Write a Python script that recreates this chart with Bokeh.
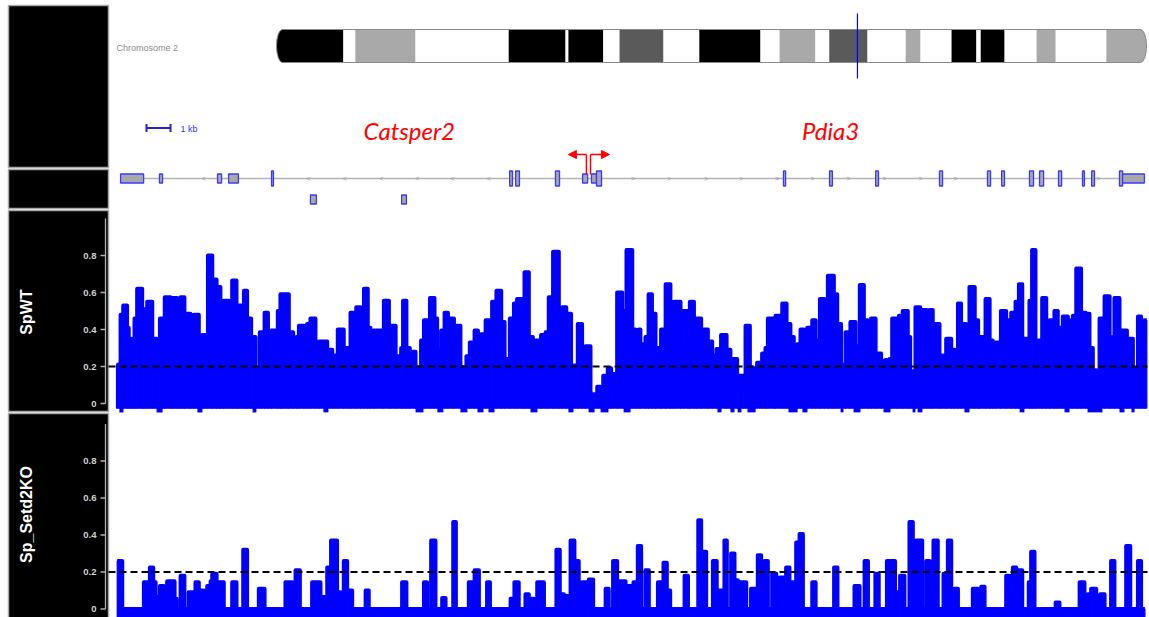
import math
from bokeh.plotting import figure
from bokeh.models import Range1d, Arrow, NormalHead
from bokeh.core.properties import value
from bokeh.embed import file_html
from bokeh.resources import INLINE

# ---------------- data ----------------
chrom_name = "Chromosome 2"
chr_len_mb = 182.1
band_start = [0.0, 14.0, 16.5, 29.1, 48.6, 60.5, 61.1, 68.4, 71.8, 81.0, 88.5, 101.3, 105.3,
              112.8, 115.7, 123.7, 131.7, 134.8, 141.3, 146.5, 147.4, 152.4, 159.1, 163.1, 173.7]
band_end = [14.0, 16.5, 29.1, 48.6, 60.5, 61.1, 68.4, 71.8, 81.0, 88.5, 101.3, 105.3, 112.8,
            115.7, 123.7, 131.7, 134.8, 141.3, 146.5, 147.4, 152.4, 159.1, 163.1, 173.7, 182.1]
band_stain = ["gpos100", "gneg", "gpos33", "gneg", "gpos100", "gneg", "gpos100", "gneg", "gpos66",
              "gneg", "gpos100", "gneg", "gpos33", "gneg", "gpos66", "gneg", "gpos33", "gneg",
              "gpos100", "gneg", "gpos100", "gneg", "gpos33", "gneg", "gpos33"]
highlight_mb = 121.6

gene_names = ["Catsper2", "Pdia3"]
gene_label_kb = [12.2, 29.75]

# exons: start kb, end kb, transcript row, height class
exon_start = [0.17, 1.79, 4.21, 4.67, 6.46, 16.38, 16.63, 18.29, 19.42, 19.79, 20.00, 27.79, 29.71,
              31.63, 34.29, 36.29, 36.88, 38.04, 38.46, 39.25, 40.25, 40.63, 41.79, 41.92, 8.08, 11.88]
exon_end = [1.13, 1.92, 4.38, 5.08, 6.54, 16.50, 16.79, 18.46, 19.63, 20.00, 20.21, 27.88, 29.83,
            31.75, 34.42, 36.42, 37.00, 38.21, 38.63, 39.38, 40.33, 40.75, 41.92, 42.83, 8.33, 12.08]
exon_row = [0] * 24 + [1, 1]
exon_cds = [0, 0, 0, 0, 1, 1, 1, 1, 0, 0, 1, 1, 1, 1, 1, 1, 1, 1, 1, 1, 1, 1, 1, 0, 0, 0]
transcript_start, transcript_end = 0.17, 42.83
minus_strand_marks = [3.63, 8.0, 9.5, 11.04, 12.54, 14.0, 15.5]
plus_strand_marks = [21.54, 23.04, 24.58, 26.04, 27.54, 29.0, 30.5, 32.0, 33.5, 34.96, 40.92]
tss_minus, tss_plus = 19.58, 19.75
scale_kb = 1.0

# SpWT signal: (segment start kb, value)
wt_steps = [
    (0.00, 0.21), (0.17, 0.48), (0.28, 0.53), (0.44, 0.41), (0.51, 0.35), (0.61, 0.20), (0.75, 0.46), (0.86, 0.62), (1.07, 0.36), (1.14, 0.51),
    (1.28, 0.55), (1.49, 0.35), (1.67, 0.18), (1.81, 0.46), (2.01, 0.575), (2.25, 0.40), (2.33, 0.57), (2.53, 0.29), (2.67, 0.575), (2.83, 0.485),
    (3.08, 0.45), (3.22, 0.48), (3.43, 0.16), (3.57, 0.37), (3.81, 0.80), (3.99, 0.67), (4.17, 0.63), (4.33, 0.51), (4.47, 0.555), (4.68, 0.29),
    (4.82, 0.665), (5.00, 0.29), (5.10, 0.53), (5.31, 0.61), (5.44, 0.46), (5.61, 0.36), (5.79, 0.19), (5.97, 0.385), (6.17, 0.49), (6.31, 0.385),
    (6.44, 0.395), (6.72, 0.50), (6.83, 0.59), (7.18, 0.385), (7.36, 0.16), (7.50, 0.36), (7.60, 0.42), (7.81, 0.36), (7.94, 0.43), (8.08, 0.46),
    (8.29, 0.30), (8.43, 0.335), (8.78, 0.29), (8.99, 0.26), (9.22, 0.40), (9.47, 0.30), (9.64, 0.23), (9.75, 0.49), (9.99, 0.52), (10.17, 0.475),
    (10.31, 0.62), (10.47, 0.41), (10.58, 0.30), (10.72, 0.395), (11.14, 0.555), (11.35, 0.29), (11.44, 0.42), (11.63, 0.255), (11.86, 0.30), (11.94, 0.555),
    (12.08, 0.30), (12.22, 0.28), (12.46, 0.196), (12.69, 0.34), (12.81, 0.45), (13.06, 0.57), (13.25, 0.46), (13.36, 0.29), (13.53, 0.395), (13.67, 0.49),
    (13.81, 0.46), (14.06, 0.42), (14.33, 0.196), (14.50, 0.105), (14.58, 0.255), (14.72, 0.33), (14.92, 0.395), (15.06, 0.34), (15.19, 0.375), (15.38, 0.45),
    (15.54, 0.36), (15.65, 0.55), (15.83, 0.61), (16.03, 0.44), (16.17, 0.24), (16.39, 0.46), (16.56, 0.54), (16.69, 0.565), (16.90, 0.41), (17.00, 0.71),
    (17.18, 0.36), (17.35, 0.16), (17.46, 0.34), (17.69, 0.37), (17.88, 0.385), (18.01, 0.575), (18.19, 0.82), (18.43, 0.44), (18.57, 0.52), (18.74, 0.485),
    (18.94, 0.18), (19.06, 0.205), (19.22, 0.43), (19.40, 0.205), (19.54, 0.31), (19.75, 0.05), (20.03, 0.09), (20.17, 0.0), (20.28, 0.15), (20.47, 0.19),
    (20.61, 0.16), (20.86, 0.60), (21.07, 0.50), (21.25, 0.83), (21.49, 0.40), (21.63, 0.27), (21.76, 0.40), (21.83, 0.32), (22.04, 0.36), (22.17, 0.59),
    (22.31, 0.485), (22.46, 0.30), (22.69, 0.40), (22.88, 0.645), (23.08, 0.46), (23.22, 0.55), (23.50, 0.45), (23.61, 0.50), (23.81, 0.30), (23.89, 0.55),
    (24.06, 0.44), (24.17, 0.46), (24.36, 0.40), (24.64, 0.335), (24.82, 0.26), (25.00, 0.295), (25.19, 0.37), (25.42, 0.29), (25.58, 0.24), (25.86, 0.09),
    (25.93, 0.15), (26.11, 0.07), (26.21, 0.42), (26.39, 0.196), (26.49, 0.19), (26.69, 0.22), (26.90, 0.27), (27.04, 0.30), (27.14, 0.46), (27.39, 0.395),
    (27.46, 0.475), (27.74, 0.54), (27.92, 0.43), (28.08, 0.36), (28.22, 0.24), (28.36, 0.32), (28.50, 0.40), (28.64, 0.32), (28.78, 0.41), (28.99, 0.45),
    (29.13, 0.34), (29.31, 0.565), (29.50, 0.44), (29.64, 0.69), (29.89, 0.59), (30.03, 0.43), (30.19, 0.21), (30.38, 0.385), (30.58, 0.44), (30.79, 0.31),
    (30.97, 0.64), (31.14, 0.45), (31.31, 0.31), (31.44, 0.46), (31.63, 0.27), (31.86, 0.23), (32.04, 0.235), (32.21, 0.24), (32.32, 0.46), (32.49, 0.30),
    (32.60, 0.475), (32.76, 0.50), (32.97, 0.36), (33.07, 0.175), (33.29, 0.52), (33.49, 0.21), (33.57, 0.505), (33.76, 0.29), (33.88, 0.505), (34.01, 0.43),
    (34.29, 0.26), (34.57, 0.35), (34.78, 0.29), (34.92, 0.23), (35.06, 0.54), (35.19, 0.43), (35.40, 0.40), (35.54, 0.63), (35.76, 0.45), (35.90, 0.23),
    (35.96, 0.36), (36.21, 0.565), (36.38, 0.34), (36.51, 0.30), (36.63, 0.33), (36.85, 0.50), (37.07, 0.45), (37.28, 0.49), (37.46, 0.55), (37.60, 0.645),
    (37.74, 0.23), (37.83, 0.35), (38.04, 0.555), (38.15, 0.83), (38.29, 0.34), (38.57, 0.57), (38.74, 0.43), (38.88, 0.45), (39.08, 0.50), (39.22, 0.41),
    (39.43, 0.47), (39.64, 0.45), (39.85, 0.475), (39.99, 0.73), (40.19, 0.49), (40.38, 0.485), (40.54, 0.30), (40.68, 0.18), (40.82, 0.045), (40.96, 0.46),
    (41.17, 0.58), (41.38, 0.36), (41.58, 0.57), (41.79, 0.17), (41.89, 0.395), (42.10, 0.35), (42.35, 0.19), (42.56, 0.47), (42.69, 0.34), (42.83, 0.45),
]
wt_end = 42.93
wt_dip_start = [0.12, 1.67, 3.37, 5.67, 8.62, 12.46, 13.37, 14.33, 15.04, 15.50, 17.25, 18.83, 19.67, 20.17, 21.13, 25.04,
                25.58, 25.88, 26.29, 28.00, 28.58, 30.17, 30.71, 31.96, 33.17, 33.38, 35.33, 37.63, 39.50, 40.46, 41.79, 42.29]
wt_dip_end = [0.29, 1.92, 3.58, 5.83, 8.83, 12.79, 13.62, 14.62, 15.29, 15.75, 17.54, 19.04, 19.92, 20.50, 21.42, 25.21,
              25.75, 26.04, 26.63, 28.38, 28.79, 30.29, 31.00, 32.25, 33.29, 33.58, 35.54, 37.83, 39.71, 41.08, 42.00, 42.42]

# Sp_Setd2KO signal: (segment start kb, value)
ko_steps = [
    (0.03, 0.26), (0.24, 0.0), (1.14, 0.145), (1.31, 0.10), (1.39, 0.225), (1.53, 0.145), (1.63, 0.065), (1.81, 0.125), (1.97, 0.08), (2.11, 0.15),
    (2.42, 0.055), (2.50, 0.0), (2.67, 0.18), (2.83, 0.0), (3.01, 0.09), (3.19, 0.06), (3.29, 0.145), (3.43, 0.10), (3.64, 0.055), (3.78, 0.125),
    (3.92, 0.15), (3.99, 0.19), (4.17, 0.10), (4.26, 0.145), (4.47, 0.0), (4.82, 0.145), (5.00, 0.0), (5.28, 0.32), (5.44, 0.0), (5.93, 0.11),
    (6.17, 0.0), (7.04, 0.145), (7.32, 0.0), (7.46, 0.21), (7.64, 0.0), (8.15, 0.145), (8.50, 0.065), (8.67, 0.0), (8.78, 0.225), (8.94, 0.37),
    (9.19, 0.09), (9.33, 0.0), (9.47, 0.26), (9.61, 0.10), (9.82, 0.0), (10.38, 0.10), (10.51, 0.0), (11.90, 0.145), (12.08, 0.0), (12.81, 0.145),
    (12.94, 0.0), (13.11, 0.37), (13.29, 0.0), (13.57, 0.06), (13.71, 0.0), (14.03, 0.47), (14.14, 0.0), (14.68, 0.145), (14.92, 0.21), (15.10, 0.0),
    (15.44, 0.145), (15.56, 0.0), (16.42, 0.055), (16.58, 0.145), (16.76, 0.0), (17.04, 0.08), (17.18, 0.055), (17.39, 0.0), (17.53, 0.145), (17.81, 0.0),
    (18.33, 0.32), (18.47, 0.08), (18.64, 0.07), (18.92, 0.37), (19.08, 0.26), (19.26, 0.07), (19.40, 0.145), (19.61, 0.0), (19.68, 0.16), (19.86, 0.0),
    (20.38, 0.11), (20.51, 0.0), (20.69, 0.26), (20.86, 0.15), (21.21, 0.125), (21.54, 0.145), (21.72, 0.34), (21.86, 0.0), (22.04, 0.21), (22.18, 0.0),
    (22.56, 0.145), (22.79, 0.25), (22.93, 0.10), (23.07, 0.0), (23.67, 0.18), (23.81, 0.0), (24.24, 0.48), (24.36, 0.31), (24.57, 0.0), (24.85, 0.26),
    (25.01, 0.10), (25.26, 0.0), (25.33, 0.37), (25.43, 0.0), (25.61, 0.30), (25.75, 0.155), (25.89, 0.145), (26.24, 0.0), (26.44, 0.11), (26.63, 0.0),
    (26.72, 0.29), (26.86, 0.125), (27.00, 0.26), (27.14, 0.0), (27.32, 0.19), (27.49, 0.0), (27.63, 0.17), (27.83, 0.10), (27.90, 0.225), (28.04, 0.145),
    (28.32, 0.36), (28.46, 0.405), (28.60, 0.0), (28.99, 0.145), (29.13, 0.0), (29.90, 0.225), (30.04, 0.0), (30.75, 0.125), (30.96, 0.0), (31.17, 0.26),
    (31.31, 0.0), (31.62, 0.19), (31.76, 0.0), (32.10, 0.26), (32.21, 0.0), (32.28, 0.26), (32.44, 0.09), (32.65, 0.18), (32.83, 0.0), (33.04, 0.47),
    (33.18, 0.25), (33.32, 0.37), (33.57, 0.0), (33.74, 0.26), (33.88, 0.0), (34.04, 0.37), (34.22, 0.0), (34.46, 0.19), (34.57, 0.0), (34.64, 0.37),
    (34.78, 0.0), (34.92, 0.11), (35.06, 0.0), (35.68, 0.11), (35.89, 0.0), (36.03, 0.12), (36.17, 0.0), (37.07, 0.18), (37.21, 0.125), (37.35, 0.225),
    (37.49, 0.21), (37.74, 0.0), (38.01, 0.145), (38.11, 0.31), (38.25, 0.0), (39.13, 0.035), (39.29, 0.0), (40.13, 0.145), (40.33, 0.0), (40.47, 0.08),
    (40.61, 0.11), (40.82, 0.07), (40.99, 0.08), (41.17, 0.0), (41.44, 0.26), (41.58, 0.0), (42.07, 0.34), (42.24, 0.0), (42.56, 0.26), (42.69, 0.0),
]
ko_end = 42.85

track_names = ["SpWT", "Sp_Setd2KO"]
tick_vals = [0, 0.2, 0.4, 0.6, 0.8]
tick_labels = ["0", "0.2", "0.4", "0.6", "0.8"]
threshold = 0.2

# ---------------- layout ----------------
W, H = 1149, 617
BLUE = "#0000ff"
FONT = value("Liberation Sans")

g_px0, g_ppkb = 116.0, 24.0            # genome track: pixel of kb 0, pixels per kb
c_px0, c_pxlen = 276.0, 870.0          # ideogram pixel extent
mb_per_px = chr_len_mb / c_pxlen
wt_zero, ko_zero, px_per_unit = 403.0, 608.5, 185.0

p = figure(width=W, height=H, x_range=Range1d(0, W), y_range=Range1d(H, 0),
           x_axis_type=None, y_axis_type=None, toolbar_location=None,
           output_backend="svg", min_border=0, outline_line_color=None)
p.extra_x_ranges = {
    "genome": Range1d(-g_px0 / g_ppkb, (W - g_px0) / g_ppkb),
    "chr": Range1d(-c_px0 * mb_per_px, (W - c_px0) * mb_per_px),
}
p.extra_y_ranges = {
    "wt": Range1d((wt_zero - H) / px_per_unit, wt_zero / px_per_unit),
    "ko": Range1d((ko_zero - H) / px_per_unit, ko_zero / px_per_unit),
}

# left title panels
p.quad(left=[8, 8, 8, 8], right=[108, 108, 108, 108], top=[5, 169, 210, 413], bottom=[167, 208, 411, 620],
       fill_color="black", line_color="#a8a8a8", line_width=1.5)

# ---- ideogram ----
stain_col = {"gneg": "#ffffff", "gpos33": "#a9a9a9", "gpos66": "#5a5a5a", "gpos100": "#000000"}
cap = 6 * mb_per_px
ideo_top, ideo_bot = 29, 62
ideo_mid = (ideo_top + ideo_bot) / 2
p.ellipse(x=[cap, chr_len_mb - cap], y=[ideo_mid, ideo_mid], width=2 * cap, height=ideo_bot - ideo_top,
          fill_color=[stain_col[band_stain[0]], stain_col[band_stain[-1]]], line_color="#8a8a8a",
          line_width=1, x_range_name="chr")
bl = [max(s, cap) for s in band_start]
br = [min(e, chr_len_mb - cap) for e in band_end]
p.quad(left=bl, right=br, top=ideo_top, bottom=ideo_bot, fill_color=[stain_col[s] for s in band_stain],
       line_color=None, x_range_name="chr")
p.segment(x0=[cap, cap], x1=[chr_len_mb - cap] * 2, y0=[ideo_top, ideo_bot], y1=[ideo_top, ideo_bot],
          line_color="#8a8a8a", line_width=1, x_range_name="chr")
p.segment(x0=[highlight_mb], x1=[highlight_mb], y0=[13], y1=[78], line_color=BLUE, line_width=1.2,
          x_range_name="chr")
p.text(x=[116], y=[47], text=[chrom_name], text_font=FONT, text_font_size="9px", text_color="#8c8c8c",
       text_align="left", text_baseline="middle")

# ---- scale bar ----
sb0 = 1.25
p.segment(x0=[sb0, sb0, sb0 + scale_kb], x1=[sb0 + scale_kb, sb0, sb0 + scale_kb], y0=[127.5, 123.5, 123.5],
          y1=[127.5, 131.5, 131.5], line_color="#2020e0", line_width=2, x_range_name="genome")
p.text(x=[sb0 + scale_kb + 0.42], y=[128], text=["1 kb"], text_font=FONT, text_font_size="9px",
       text_color="#3030ff", text_baseline="middle", x_range_name="genome")

# ---- gene labels ----
p.text(x=gene_label_kb, y=[130, 130], text=gene_names, text_font=value("Lato"), text_font_style="italic",
       text_font_size="24px", text_color="#ff0000", text_align="center", text_baseline="middle",
       x_range_name="genome")

# ---- gene model ----
p.segment(x0=[transcript_start], x1=[transcript_end], y0=[178], y1=[178], line_color="#b4b4b4", line_width=1.5,
          x_range_name="genome")
p.text(x=minus_strand_marks, y=[178] * len(minus_strand_marks), text=["<"] * len(minus_strand_marks),
       text_font=FONT, text_font_size="8px", text_color="#a0a0a0", text_align="center", text_baseline="middle",
       x_range_name="genome")
p.text(x=plus_strand_marks, y=[178] * len(plus_strand_marks), text=[">"] * len(plus_strand_marks),
       text_font=FONT, text_font_size="8px", text_color="#a0a0a0", text_align="center", text_baseline="middle",
       x_range_name="genome")
row_y = [178, 199]
e_top = [row_y[r] - (7.5 if c else 4.5) for r, c in zip(exon_row, exon_cds)]
e_bot = [row_y[r] + (7.5 if c else 4.5) for r, c in zip(exon_row, exon_cds)]
p.quad(left=exon_start, right=exon_end, top=e_top, bottom=e_bot, fill_color="#a8a8a8",
       line_color="#3a3aff", line_width=1.3, x_range_name="genome")

# TSS arrows
p.segment(x0=[tss_minus, tss_plus], x1=[tss_minus, tss_plus], y0=[174, 174], y1=[154, 154],
          line_color="#ff0000", line_width=1.5, x_range_name="genome")
for x0, x1 in [(tss_minus, tss_minus - 0.75), (tss_plus, tss_plus + 0.79)]:
    p.add_layout(Arrow(x_start=x0, y_start=154, x_end=x1, y_end=154, line_color="#ff0000", line_width=1.5,
                       end=NormalHead(size=8, fill_color="#ff0000", line_color="#ff0000"),
                       x_range_name="genome"))

# ---- signal tracks ----
def draw_track(steps, end, rng, floor):
    xs = [s for s, _ in steps]
    vs = [v for _, v in steps]
    rights = xs[1:] + [end]
    p.quad(left=xs, right=rights, bottom=floor, top=vs, fill_color=BLUE, line_color=BLUE, line_width=1.2,
           x_range_name="genome", y_range_name=rng)
    p.step(x=xs + [end], y=vs + [vs[-1]], mode="after", line_color=BLUE, line_width=4,
           line_join="round", x_range_name="genome", y_range_name=rng)

draw_track(wt_steps, wt_end, "wt", -0.025)
p.quad(left=wt_dip_start, right=wt_dip_end, bottom=-0.048, top=-0.02, fill_color=BLUE, line_color=None,
       x_range_name="genome", y_range_name="wt")
draw_track(ko_steps, ko_end, "ko", -0.05)

for rng, name, cy in [("wt", track_names[0], 311.5), ("ko", track_names[1], 514)]:
    p.segment(x0=[108], x1=[1147], y0=[threshold], y1=[threshold], line_color="black", line_width=2,
              line_dash="7 4", y_range_name=rng)
    p.segment(x0=[105], x1=[105], y0=[0], y1=[1.0], line_color="#b0b0b0", line_width=1.3, y_range_name=rng)
    p.segment(x0=[100] * len(tick_vals), x1=[105] * len(tick_vals), y0=tick_vals, y1=tick_vals,
              line_color="#b0b0b0", line_width=1.3, y_range_name=rng)
    p.text(x=[96] * len(tick_vals), y=tick_vals, text=tick_labels, text_font=FONT, text_font_style="bold",
           text_font_size="9.5px", text_color="#d0d0d0", text_align="right", text_baseline="middle",
           y_range_name=rng)
    p.text(x=[26], y=[cy], text=[name], angle=math.pi / 2, text_font=FONT, text_font_style="bold",
           text_font_size="16px", text_color="white", text_align="center", text_baseline="middle")

open("out.html", "w").write(file_html(p, INLINE))
